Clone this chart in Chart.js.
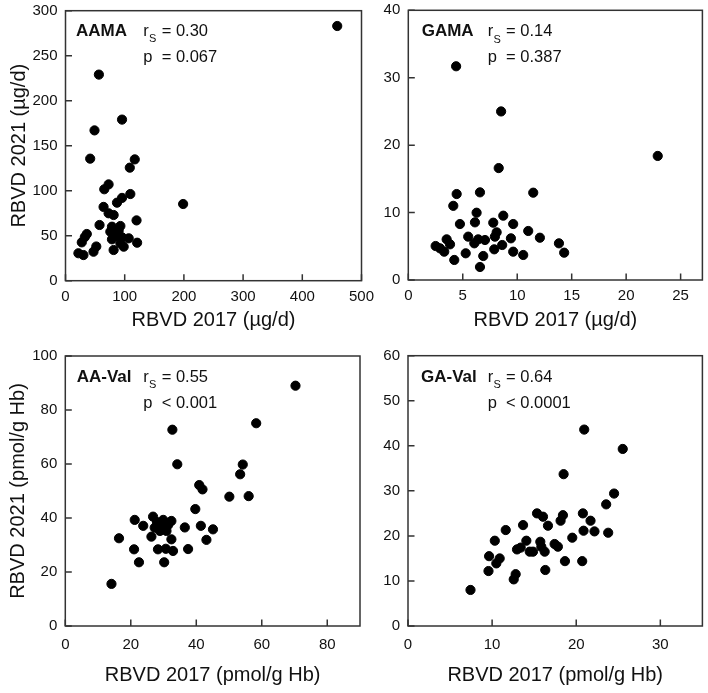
<!DOCTYPE html>
<html>
<head>
<meta charset="utf-8">
<script src="https://cdn.jsdelivr.net/npm/chart.js@4.4.1/dist/chart.umd.min.js"></script>
<style>
  body { margin: 0; background: #fff; }
  #fig { position: relative; width: 708px; height: 693px; overflow: hidden; }
  canvas { position: absolute; }
</style>
</head>
<body>
<div id="fig">
  <canvas id="c1" width="382" height="345" style="left:0;top:0"></canvas>
  <canvas id="c2" width="336" height="345" style="left:372px;top:0"></canvas>
  <canvas id="c3" width="382" height="348" style="left:0;top:345px"></canvas>
  <canvas id="c4" width="336" height="348" style="left:372px;top:345px"></canvas>
</div>
<script>
// AAMA (µg/d)
const aamaX = [459, 56.4, 95.5, 49, 41.7, 117, 108.6, 72.8, 65.5, 109.5, 95.5, 87, 198.7, 64.3, 72.8, 81.3, 120, 57.5, 78.5, 92.7, 75.7, 89.8, 84.2, 95.5, 78.5, 106.8, 92.7, 81.3, 98.3, 121, 52, 47.3, 36, 32.6, 27.5, 21.8, 30.3];
const aamaY = [283, 229, 179, 167, 135.6, 134.8, 125.6, 107, 101.6, 96.3, 92, 86.7, 85.2, 82, 74.9, 73, 67, 61.9, 60, 60.8, 54.5, 55.6, 49.7, 48.2, 46, 47.1, 41.5, 34.1, 37.8, 42.2, 38, 32.2, 51.9, 48.5, 42.6, 30.5, 28.5];

// GAMA (µg/d)
const gamaX = [4.39, 8.52, 22.9, 8.3, 4.44, 6.58, 11.47, 4.13, 6.27, 8.72, 4.74, 6.12, 7.8, 9.63, 8.11, 7.95, 11.01, 5.5, 6.42, 7.04, 6.06, 9.42, 12.08, 3.52, 3.83, 2.51, 2.91, 3.3, 8.62, 7.89, 13.83, 14.31, 9.63, 10.55, 6.88, 5.27, 4.22, 6.58];
const gamaY = [31.7, 25, 18.4, 16.6, 12.75, 13.0, 12.95, 11.0, 9.98, 9.54, 8.3, 8.55, 8.5, 8.3, 7.07, 6.43, 7.27, 6.43, 6.03, 5.93, 5.44, 6.18, 6.27, 6.03, 5.29, 5.04, 4.7, 4.2, 5.19, 4.55, 5.44, 4.05, 4.2, 3.71, 3.56, 3.96, 2.97, 1.93];

// AA-Val (pmol/g Hb)
const aavX = [70.3, 58.3, 32.7, 34.2, 54.2, 53.4, 40.9, 41.9, 50.1, 56, 39.7, 21.2, 26.8, 29.9, 32.4, 23.8, 27.3, 28.9, 30.9, 31.4, 36.5, 41.4, 45.1, 16.4, 26.3, 32.4, 43.1, 21, 28.3, 30.7, 32.9, 37.5, 22.5, 30.2, 14.1, 28, 30];
const aavY = [89, 75.1, 72.7, 59.9, 59.8, 56.2, 52.2, 50.6, 47.9, 48.1, 43.3, 39.3, 40.5, 39.3, 38.9, 37.1, 36.4, 35.2, 35.2, 37.4, 36.5, 37.1, 35.8, 32.5, 33.1, 32.1, 31.9, 28.4, 28.4, 28.6, 27.8, 28.5, 23.6, 23.6, 15.6, 38.5, 37];

// GA-Val (pmol/g Hb)
const gavX = [20.95, 25.53, 18.5, 24.5, 23.56, 15.34, 16.05, 20.79, 18.42, 18.14, 21.7, 13.68, 16.64, 11.62, 20.87, 22.17, 23.8, 19.53, 10.32, 14.07, 15.73, 15.85, 17.43, 17.82, 12.96, 13.4, 14.47, 14.86, 16.25, 9.64, 10.9, 10.5, 18.66, 20.71, 9.57, 16.32, 12.8, 12.57, 7.43];
const gavY = [43.6, 39.3, 33.7, 29.4, 27.0, 25.0, 24.26, 25.0, 24.6, 23.37, 23.37, 22.4, 22.26, 21.3, 21.15, 21.0, 20.7, 19.6, 18.93, 18.93, 18.7, 17.6, 18.2, 17.6, 17.0, 17.4, 16.5, 16.5, 16.5, 15.5, 15.0, 13.9, 14.4, 14.4, 12.2, 12.43, 11.5, 10.35, 8.0];

// tick labels
const aamaXTicks = [0, 100, 200, 300, 400, 500];
const aamaYTicks = [0, 50, 100, 150, 200, 250, 300];
const gamaXTicks = [0, 5, 10, 15, 20, 25];
const gamaYTicks = [0, 10, 20, 30, 40];
const aavXTicks = [0, 20, 40, 60, 80];
const aavYTicks = [0, 20, 40, 60, 80, 100];
const gavXTicks = [0, 10, 20, 30];
const gavYTicks = [0, 10, 20, 30, 40, 50, 60];

// statistics text
const names = ['AAMA', 'GAMA', 'AA-Val', 'GA-Val'];
const rsVals = ['0.30', '0.14', '0.55', '0.64'];
const pVals = ['= 0.067', '= 0.387', '< 0.001', '< 0.0001'];

const FONT = '"Liberation Sans", Arial, sans-serif';
const TICKFONT = '"Liberation Sans Narrow", "Liberation Sans", Arial, sans-serif';

// marco y marcas hacia dentro
const framePlugin = {
    id: 'frame',
    beforeDatasetsDraw(chart) {
        const { ctx, chartArea: a, scales } = chart;
        ctx.save();
        ctx.strokeStyle = '#333';
        ctx.lineWidth = 1.5;
        ctx.strokeRect(a.left, a.top, a.right - a.left, a.bottom - a.top);
        ctx.beginPath();
        scales.x.ticks.forEach(t => {
            const px = scales.x.getPixelForValue(t.value);
            ctx.moveTo(px, a.bottom);
            ctx.lineTo(px, a.bottom - 6.5);
        });
        scales.y.ticks.forEach(t => {
            const py = scales.y.getPixelForValue(t.value);
            ctx.moveTo(a.left, py);
            ctx.lineTo(a.left + 6.5, py);
        });
        ctx.stroke();
        ctx.restore();
    }
};

// texto de correlacion
const notePlugin = {
    id: 'note',
    afterDraw(chart, args, o) {
        const { ctx, chartArea: a } = chart;
        const y1 = a.top + o.y1;
        const y2 = a.top + o.y2;
        const rx = a.left + o.statX;
        ctx.save();
        ctx.fillStyle = '#111';
        ctx.textBaseline = 'middle';
        ctx.font = 'bold 17px ' + FONT;
        ctx.fillText(o.name, a.left + o.nameX, y1);
        ctx.font = '16.5px ' + FONT;
        ctx.fillText('r', rx, y1);
        ctx.fillText('= ' + o.rs, rx + 18.4, y1);
        ctx.fillText('p', rx, y2);
        ctx.fillText(o.p, rx + 18.4, y2);
        ctx.font = '11px ' + FONT;
        ctx.fillText('S', rx + 5.8, y1 + 8);
        ctx.restore();
    }
};

const grafica = (id, xs, ys, xTicks, yTicks, opt) => {
    const puntos = xs.map((x, i) => ({ x: x, y: ys[i] }));
    new Chart(document.getElementById(id), {
        type: 'scatter',
        data: {
            datasets: [{
                data: puntos,
                backgroundColor: '#000',
                borderColor: '#000',
                pointRadius: 4.6,
                pointHoverRadius: 4.6,
                clip: false
            }]
        },
        options: {
            responsive: false,
            animation: false,
            events: [],
            layout: { padding: { top: opt.padTop, right: opt.padRight, left: 0, bottom: 0 } },
            plugins: {
                legend: { display: false },
                tooltip: { enabled: false },
                note: opt.note
            },
            scales: {
                x: {
                    type: 'linear',
                    min: xTicks[0],
                    max: opt.xMax,
                    afterBuildTicks: s => { s.ticks = xTicks.map(v => ({ value: v })); },
                    afterFit: s => { s.height = opt.xHeight; s.paddingLeft = 0; s.paddingRight = 0; },
                    grid: { display: false, drawTicks: false },
                    border: { display: false },
                    ticks: { padding: opt.xPad, color: '#111', font: { family: TICKFONT, size: 15 }, maxRotation: 0 },
                    title: { display: true, text: opt.xTitle, color: '#111', font: { family: FONT, size: 20 }, padding: { top: 0, bottom: opt.xTitlePad } }
                },
                y: {
                    type: 'linear',
                    min: yTicks[0],
                    max: yTicks[yTicks.length - 1],
                    afterBuildTicks: s => { s.ticks = yTicks.map(v => ({ value: v })); },
                    afterFit: s => { s.width = opt.yWidth; s.paddingTop = 0; s.paddingBottom = 0; },
                    grid: { display: false, drawTicks: false },
                    border: { display: false },
                    ticks: { padding: 8, color: '#111', font: { family: TICKFONT, size: 15 } },
                    title: { display: !!opt.yTitle, text: opt.yTitle || '', color: '#111', font: { family: FONT, size: 20 }, padding: { top: opt.yTitlePad || 0, bottom: 0 } }
                }
            }
        },
        plugins: [framePlugin, notePlugin]
    });
};

window.onload = function () {
    grafica('c1', aamaX, aamaY, aamaXTicks, aamaYTicks, {
        xMax: 500, padTop: 10.7, padRight: 20.5, yWidth: 65.5, xHeight: 64.3, xPad: 7, xTitlePad: 13,
        xTitle: 'RBVD 2017 (µg/d)', yTitle: 'RBVD 2021 (µg/d)', yTitlePad: 7,
        note: { name: names[0], rs: rsVals[0], p: pVals[0], nameX: 10.5, statX: 77.8, y1: 20.4, y2: 47 }
    });
    grafica('c2', gamaX, gamaY, gamaXTicks, gamaYTicks, {
        xMax: 27, padTop: 10.3, padRight: 5, yWidth: 36.3, xHeight: 65, xPad: 7, xTitlePad: 13,
        xTitle: 'RBVD 2017 (µg/d)',
        note: { name: names[1], rs: rsVals[1], p: pVals[1], nameX: 13.4, statX: 79.4, y1: 21.2, y2: 47.4 }
    });
    grafica('c3', aavX, aavY, aavXTicks, aavYTicks, {
        xMax: 90, padTop: 11, padRight: 22, yWidth: 65.3, xHeight: 67, xPad: 10, xTitlePad: 6,
        xTitle: 'RBVD 2017 (pmol/g Hb)', yTitle: 'RBVD 2021 (pmol/g Hb)', yTitlePad: 6,
        note: { name: names[2], rs: rsVals[2], p: pVals[2], nameX: 11.4, statX: 78, y1: 21.3, y2: 47.3 }
    });
    grafica('c4', gavX, gavY, gavXTicks, gavYTicks, {
        xMax: 35, padTop: 10.7, padRight: 5, yWidth: 36, xHeight: 67, xPad: 10, xTitlePad: 6,
        xTitle: 'RBVD 2017 (pmol/g Hb)',
        note: { name: names[3], rs: rsVals[3], p: pVals[3], nameX: 13, statX: 79.7, y1: 21.6, y2: 47.6 }
    });
};
</script>
</body>
</html>
